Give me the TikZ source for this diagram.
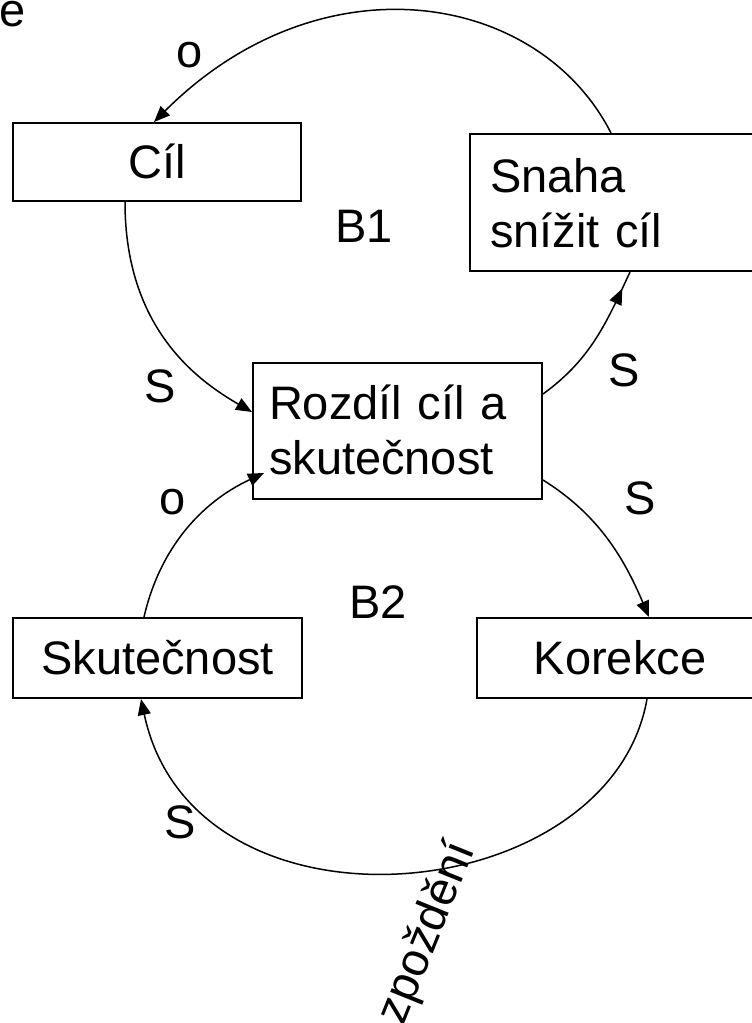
\documentclass[tikz,border=0pt]{standalone}
\usepackage{fontspec}
\setmainfont{Liberation Sans}
\usetikzlibrary{arrows.meta,decorations.markings}
\begin{document}
\begin{tikzpicture}[x=1pt,y=1pt,
  bigfont/.style={font=\fontsize{47}{55}\selectfont},
  box/.style={draw, line width=2pt, inner sep=0pt, bigfont},
  onebox/.style={box, text height=33.7pt, text depth=0pt},
  twobox/.style={box, align=left},
  lbl/.style={bigfont, inner sep=0pt, anchor=base},
  tip/.style={-{Triangle[length=16pt,width=13pt]}},
  link/.style={line width=1.5pt, tip},
  midlink/.style={line width=1.5pt, postaction={decorate},
    decoration={markings, mark=at position #1 with {\arrow{Triangle[length=16pt,width=13pt]}}}},
  ]
\useasboundingbox (0,0) rectangle (752,-1023);

% boxes
\node[onebox, minimum width=288pt, minimum height=78pt] (cil) at (157,-162) {Cíl};
\node[twobox, minimum width=290pt, minimum height=137pt, inner xsep=20pt, text width=250pt,
      text height=33pt, text depth=54pt] (snaha) at (615,-202.5) {Snaha\\snížit cíl};
\node[twobox, minimum width=289pt, minimum height=136pt, inner xsep=16pt, text width=257pt,
      text height=33pt, text depth=57pt] (rozdil) at (397.5,-431) {Rozdíl cíl a\\skutečnost};
\node[onebox, minimum width=289pt, minimum height=80pt] (skut) at (157.5,-658) {Skutečnost};
\node[onebox, minimum width=286pt, minimum height=80pt] (korekce) at (620,-658) {Korekce};

% labels
\node[lbl] (e) at (13,-26) {e};
\node[lbl] (o1) at (189.5,-67) {o};
\node[lbl] (b1) at (364,-242) {B1};
\node[lbl] (s1) at (160.5,-402) {S};
\node[lbl] (s2) at (624,-386) {S};
\node[lbl] (s3) at (640,-514) {S};
\node[lbl] (o2) at (172.5,-514) {o};
\node[lbl] (b2) at (378,-618) {B2};
\node[lbl] (s4) at (180,-838) {S};
\node[bigfont, inner sep=0pt, rotate=68] (zpozdeni) at (428,-933) {zpoždění};

% connectors
\draw[link] ([xshift=142pt]snaha.north west) to[out=117,in=45,out distance=160pt,in distance=235pt] ([xshift=142pt]cil.north west);
\draw[link] ([xshift=113pt]cil.south west) to[out=-90,in=150,out distance=125pt,in distance=65pt] ([yshift=19pt]rozdil.west);
\draw[midlink=0.88] ([yshift=37pt]rozdil.east) to[out=36,in=-115,out distance=60pt,in distance=55pt] ([xshift=161pt]snaha.south west);
\draw[link] ([yshift=-49pt]rozdil.east) to[out=-32,in=113,out distance=65pt,in distance=65pt] ([xshift=173pt]korekce.north west);
\draw[link] ([xshift=171pt]korekce.south west) to[out=-100,in=-78,out distance=215pt,in distance=255pt] ([xshift=129pt]skut.south west);
\draw[link] ([xshift=132pt]skut.north west) to[out=77,in=205,out distance=70pt,in distance=70pt] ([xshift=12pt,yshift=-42pt]rozdil.west);
\end{tikzpicture}
\end{document}
